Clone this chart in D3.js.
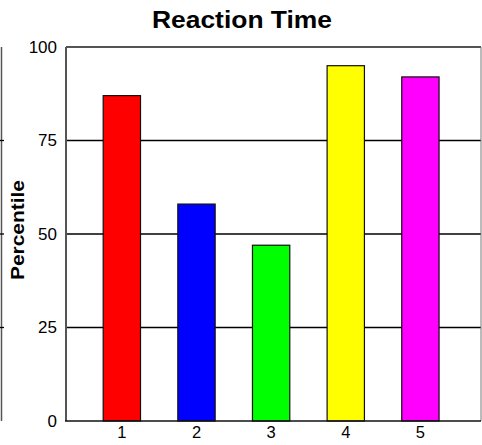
<!DOCTYPE html>
<html><head><meta charset="utf-8">
<script src="https://cdn.jsdelivr.net/npm/d3@7"></script>
<style>
html,body{margin:0;padding:0;background:#fff;}
svg{display:block;font-family:"Liberation Sans",Arial,Helvetica,sans-serif;}
</style></head>
<body>
<svg id="chart" width="482" height="445"></svg>
<script>
const categories = ["1", "2", "3", "4", "5"];
const values = [87, 58, 47, 95, 92];
const colors = ["#ff0000", "#0000ff", "#00ff00", "#ffff00", "#ff00ff"];
const yTicks = [0, 25, 50, 75, 100];
const title = "Reaction Time";
const yLabel = "Percentile";

const svg = d3.select("#chart");
const L = 66, R = 481, T = 47, B = 421;

const x = d3.scaleBand().domain(categories).range([L, R])
  .paddingInner(0.5).paddingOuter(0.53).align(0.47);
const y = d3.scaleLinear().domain([0, 100]).range([B, T]);

// partial neighbouring chart edge on the far left
svg.append("line").attr("x1", 1.5).attr("x2", 1.5).attr("y1", T).attr("y2", B)
  .attr("stroke", "#555").attr("stroke-width", 1.5);
svg.selectAll("line.nb").data(yTicks.slice(1, 4)).enter().append("line")
  .attr("class", "nb").attr("x1", 0).attr("x2", 4)
  .attr("y1", d => y(d)).attr("y2", d => y(d))
  .attr("stroke", "#000").attr("stroke-width", 1.3);

// gridlines
svg.selectAll("line.grid").data(yTicks.slice(1, 4)).enter().append("line")
  .attr("class", "grid").attr("x1", L).attr("x2", R)
  .attr("y1", d => y(d)).attr("y2", d => y(d))
  .attr("stroke", "#000").attr("stroke-width", 1.4);

// bars
svg.selectAll("rect.bar").data(values).enter().append("rect")
  .attr("class", "bar")
  .attr("x", (d, i) => x(categories[i]))
  .attr("y", d => y(d))
  .attr("width", x.bandwidth())
  .attr("height", d => B - y(d))
  .attr("fill", (d, i) => colors[i])
  .attr("stroke", "#111").attr("stroke-width", 1.2);

// plot border
svg.append("line").attr("x1", L).attr("x2", R).attr("y1", T).attr("y2", T)
  .attr("stroke", "#555").attr("stroke-width", 2);
svg.append("line").attr("x1", L).attr("x2", L).attr("y1", T).attr("y2", B)
  .attr("stroke", "#555").attr("stroke-width", 2);
svg.append("line").attr("x1", R).attr("x2", R).attr("y1", T).attr("y2", B)
  .attr("stroke", "#777").attr("stroke-width", 1);
svg.append("line").attr("x1", L - 1).attr("x2", R).attr("y1", B).attr("y2", B)
  .attr("stroke", "#111").attr("stroke-width", 1.6);

// y axis labels
const yAxis = d3.axisLeft(y).tickValues(yTicks).tickSize(0).tickPadding(9);
const gy = svg.append("g").attr("transform", `translate(${L},0)`).call(yAxis);
gy.select(".domain").remove();
gy.selectAll("text").attr("font-size", 17).attr("fill", "#000")
  .attr("font-family", "Liberation Sans, Arial, sans-serif");

// x axis labels
const xAxis = d3.axisBottom(x).tickSize(0).tickPadding(5);
const gx = svg.append("g").attr("transform", `translate(0,${B})`).call(xAxis);
gx.select(".domain").remove();
gx.selectAll("text").attr("font-size", 16.5).attr("fill", "#000")
  .attr("font-family", "Liberation Sans, Arial, sans-serif");

// title
svg.append("text").attr("x", 242).attr("y", 27.5)
  .attr("text-anchor", "middle").attr("font-size", 23).attr("font-weight", "bold")
  .attr("textLength", 180).attr("lengthAdjust", "spacingAndGlyphs")
  .text(title);

// y label
svg.append("text").attr("transform", "translate(24,230) rotate(-90)")
  .attr("text-anchor", "middle").attr("font-size", 18).attr("font-weight", "bold")
  .attr("textLength", 100).attr("lengthAdjust", "spacingAndGlyphs")
  .text(yLabel);
</script>
</body></html>
